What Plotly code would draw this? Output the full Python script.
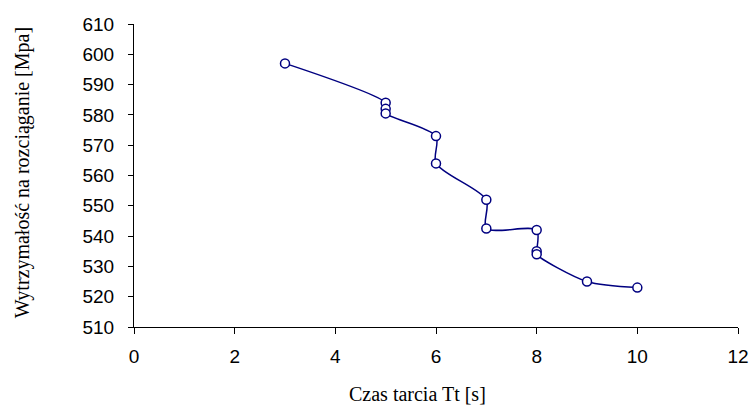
import plotly.graph_objects as go

czas = [3, 5, 5, 5, 6, 6, 7, 7, 8, 8, 8, 9, 10]
wytrzymalosc = [597, 584, 582, 580.5, 573, 564, 552, 542.5, 542, 535, 534, 525, 523]

x_ticks = [0, 2, 4, 6, 8, 10, 12]
y_ticks = [510, 520, 530, 540, 550, 560, 570, 580, 590, 600, 610]

x_title = "Czas tarcia Tt [s]"
y_title = "Wytrzymałość na rozciąganie [Mpa]"

SANS = "Liberation Sans"
SERIF = "Liberation Serif"

fig = go.Figure()
fig.add_trace(go.Scatter(
    x=czas, y=wytrzymalosc, mode="lines+markers",
    line=dict(color="#000080", width=1.5, shape="spline", smoothing=0.8),
    marker=dict(symbol="circle", size=9, color="white", line=dict(color="#000080", width=1.5)),
    showlegend=False,
))

fig.update_layout(
    width=753, height=410,
    margin=dict(l=134, r=15, t=24, b=83),
    paper_bgcolor="white", plot_bgcolor="white",
    font=dict(family=SANS, size=19, color="black"),
    annotations=[
        dict(text=x_title, xref="paper", yref="paper", x=0.47, y=-0.222,
             xanchor="center", yanchor="middle", showarrow=False,
             font=dict(family=SERIF, size=20, color="black")),
        dict(text=y_title, xref="paper", yref="paper", x=-0.184, y=0.51,
             xanchor="center", yanchor="middle", showarrow=False, textangle=-90,
             font=dict(family=SERIF, size=20, color="black")),
    ],
)
fig.update_xaxes(
    range=[0, 12], tickvals=x_ticks, showgrid=False, zeroline=False,
    showline=True, linecolor="black", linewidth=1,
    ticks="outside", ticklen=6, tickcolor="black", ticklabelstandoff=6,
    tickfont=dict(family=SANS, size=19), automargin=False,
)
fig.update_yaxes(
    range=[510, 610], tickvals=y_ticks, showgrid=False, zeroline=False,
    showline=True, linecolor="black", linewidth=1,
    ticks="outside", ticklen=5, tickcolor="black", ticklabelstandoff=10,
    tickfont=dict(family=SANS, size=19), automargin=False,
)

fig.write_html(
    "out.html",
    config={"displayModeBar": False},
    post_script="document.body.style.margin='0';document.body.style.overflow='hidden';",
)
